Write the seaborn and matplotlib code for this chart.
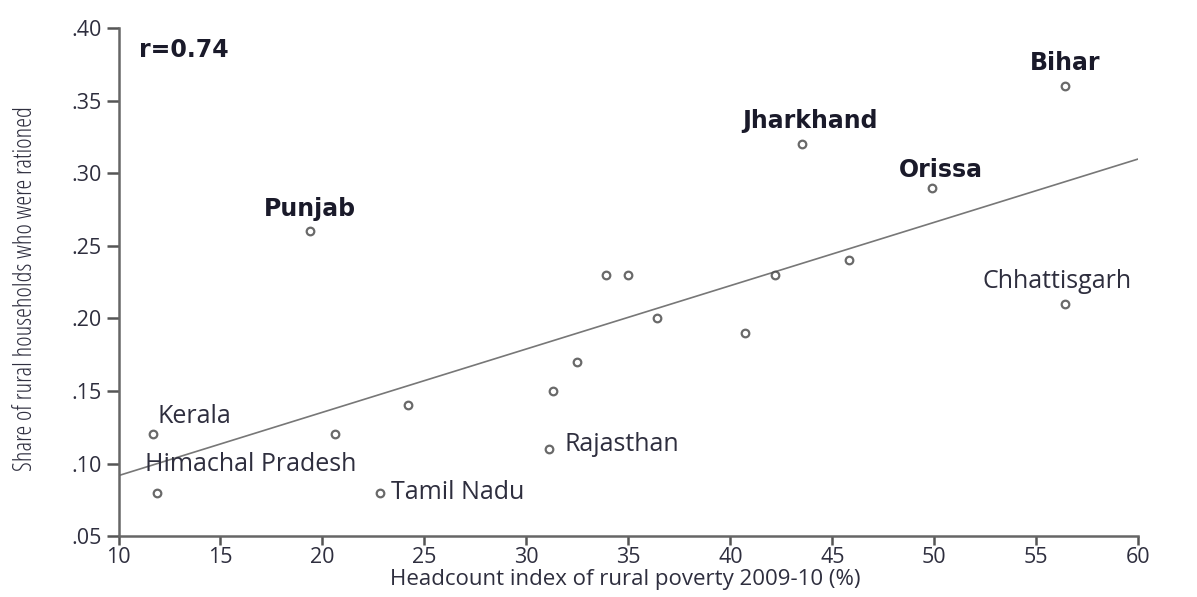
import seaborn as sns
import matplotlib.pyplot as plt
import pandas as pd

# data
states = ['Kerala', 'Himachal Pradesh', 'Punjab', '', 'Tamil Nadu', '',
          'Rajasthan', '', '', '', '', '', '', '', 'Jharkhand', '',
          'Orissa', 'Chhattisgarh', 'Bihar']
poverty = [11.7, 11.9, 19.4, 20.6, 22.8, 24.2, 31.1, 31.3, 32.5, 33.9,
           35.0, 36.4, 40.7, 42.2, 43.5, 45.8, 49.9, 56.4, 56.4]
rationed = [0.12, 0.08, 0.26, 0.12, 0.08, 0.14, 0.11, 0.15, 0.17, 0.23,
            0.23, 0.20, 0.19, 0.23, 0.32, 0.24, 0.29, 0.21, 0.36]

df = pd.DataFrame({'state': states, 'poverty': poverty, 'rationed': rationed})

bold_states = ['Punjab', 'Jharkhand', 'Orissa', 'Bihar']
# label offsets in points (dx, dy, ha)
offsets = {
    'Kerala': (3, 13, 'left'),
    'Himachal Pradesh': (67, 20, 'center'),
    'Tamil Nadu': (8, 0, 'left'),
    'Rajasthan': (11, 3, 'left'),
    'Chhattisgarh': (-6, 16, 'center'),
    'Punjab': (0, 16, 'center'),
    'Jharkhand': (6, 17, 'center'),
    'Orissa': (6, 13, 'center'),
    'Bihar': (0, 17, 'center'),
}

sns.set_style("ticks")
plt.rcParams['font.family'] = ['Open Sans', 'DejaVu Sans']

fig = plt.figure(figsize=(11.97, 5.97), dpi=100)
ax = fig.add_axes([0.099, 0.102, 0.852, 0.851])
ax.set_xlim(10, 60)
ax.set_ylim(0.05, 0.40)

sns.regplot(data=df, x='poverty', y='rationed', ax=ax, ci=None, truncate=False,
            scatter_kws={'s': 30, 'facecolors': 'white', 'edgecolors': '#444444',
                         'linewidths': 1.6, 'zorder': 3},
            line_kws={'color': '#777777', 'lw': 1.2})

ax.set_xlim(10, 60)
ax.set_ylim(0.05, 0.40)

txt_color = '#2e2e3e'
bold_font = ['DejaVu Sans']
for _, row in df.iterrows():
    name = row['state']
    if not name:
        continue
    dx, dy, ha = offsets[name]
    if name in bold_states:
        ax.annotate(name, (row['poverty'], row['rationed']), xytext=(dx, dy),
                    textcoords='offset points', ha=ha, va='center',
                    fontsize=17, fontweight='bold', color='#1a1a2a',
                    family=bold_font)
    else:
        ax.annotate(name, (row['poverty'], row['rationed']), xytext=(dx, dy),
                    textcoords='offset points', ha=ha, va='center',
                    fontsize=18, color=txt_color)

ax.text(0.02, 0.957, 'r=0.74', transform=ax.transAxes, fontsize=17,
        fontweight='bold', color='#1a1a2a', va='center', family=bold_font)

ax.set_xticks(range(10, 61, 5))
ax.set_yticks([0.05, 0.10, 0.15, 0.20, 0.25, 0.30, 0.35, 0.40])
ax.set_yticklabels(['.05', '.10', '.15', '.20', '.25', '.30', '.35', '.40'])
ax.tick_params(labelsize=15.5, colors='#555555', labelcolor=txt_color, width=1.8)
ax.tick_params(axis='x', length=6.5, pad=1.5)
ax.tick_params(axis='y', length=8.5, pad=3.5)

ax.set_xlabel('Headcount index of rural poverty 2009-10 (%)', fontsize=16,
              color=txt_color)
ax.xaxis.set_label_coords(0.497, -0.064)
ax.set_ylabel('Share of rural households who were rationed', fontsize=18,
              color=txt_color, fontstretch='condensed')
ax.yaxis.set_label_coords(-0.079, 0.487)

for s in ['top', 'right']:
    ax.spines[s].set_visible(False)
for s in ['left', 'bottom']:
    ax.spines[s].set_color('#666666')
    ax.spines[s].set_linewidth(1.8)

plt.savefig('out.png', dpi=100)
plt.close()
